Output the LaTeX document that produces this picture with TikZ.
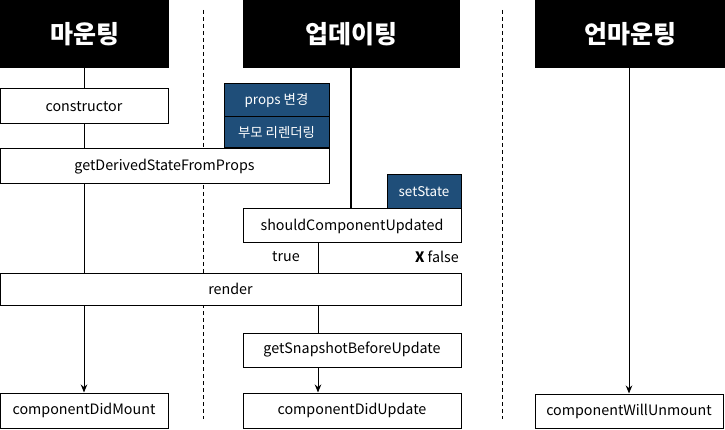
\documentclass[tikz,border=0pt]{standalone}
\usepackage{fontspec}
\setmainfont{Noto Sans CJK KR}
\usetikzlibrary{arrows.meta}
\definecolor{navy}{HTML}{1F4E79}
\tikzset{
  hdr/.style={fill=black, text=white, inner sep=0pt, font=\fontsize{25}{28}\selectfont\bfseries},
  box/.style={draw=black, line width=1pt, fill=white, inner sep=0pt, font=\fontsize{14.3}{17}\selectfont},
  bluebox/.style={draw=black, line width=1pt, fill=navy, text=white, inner sep=0pt, font=\fontsize{13.4}{16}\selectfont},
  conn/.style={draw=black, line width=1pt},
  arr/.style={conn, -{Stealth[length=8pt,width=6.5pt]}},
  sep/.style={draw=black, line width=1pt, dash pattern=on 4pt off 3pt},
  lbl/.style={inner sep=0pt, font=\fontsize{14.3}{17}\selectfont}
}
\begin{document}
\begin{tikzpicture}[x=1pt,y=-1pt]
\useasboundingbox (0,0) rectangle (725,430);
% separators
\coordinate (s1a) at (203,10); \coordinate (s1b) at (203,419);
\coordinate (s2a) at (502,10); \coordinate (s2b) at (502,419);
\draw[sep] (s1a) -- (s1b);
\draw[sep] (s2a) -- (s2b);
% headers
\node[hdr, minimum width=169pt, minimum height=68pt] (hm) at (84.5,34) {마운팅};
\node[hdr, minimum width=217pt, minimum height=68pt] (hu) at (351.5,34) {업데이팅};
\node[hdr, minimum width=190pt, minimum height=68pt] (hn) at (630,34) {언마운팅};
% x guides
\coordinate (xm) at (84,0);
\coordinate (xu) at (351,0);
\coordinate (xt) at (318,0);
\coordinate (xn) at (629,0);
\coordinate (mb) at (84,290);
% mounting column connector (behind boxes)
\draw[conn] (hm.south -| xm) -- (mb);
% boxes
\node[box, minimum width=168pt, minimum height=35pt] (ctor) at (84,106.5) {constructor};
\node[box, minimum width=329pt, minimum height=35pt] (gdsfp) at (164.5,166.5) {getDerivedStateFromProps};
\node[bluebox, minimum width=105pt, minimum height=33pt] (props) at (276.5,100.5) {props 변경};
\node[bluebox, minimum width=105pt, minimum height=31pt] (parent) at (276.5,132.5) {부모 리렌더링};
\node[bluebox, minimum width=74pt, minimum height=34pt] (setstate) at (424,192) {setState};
\node[box, minimum width=218pt, minimum height=34pt] (scu) at (352,226) {shouldComponentUpdated};
\node[box, minimum width=461pt, minimum height=32pt] (render) at (230.5,289) {render};
\node[box, minimum width=218pt, minimum height=34pt] (gsbu) at (352,350) {getSnapshotBeforeUpdate};
\node[box, minimum width=218pt, minimum height=35pt] (cdu) at (352,410.5) {componentDidUpdate};
\node[box, minimum width=168pt, minimum height=35pt] (cdm) at (84,410.5) {componentDidMount};
\node[box, minimum width=188pt, minimum height=34pt] (cwu) at (629,411) {componentWillUnmount};
% mounting arrow
\draw[arr] (render.south -| xm) -- (cdm.north -| xm);
% updating connectors
\draw[draw=black, line width=2pt] (hu.south -| xu) -- (scu.north -| xu);
\draw[conn] (scu.south -| xt) -- (render.north -| xt);
\draw[conn] (render.south -| xt) -- (gsbu.north -| xt);
\draw[arr] (gsbu.south -| xt) -- (cdu.north -| xt);
% unmount
\draw[arr] (hn.south -| xn) -- (cwu.north -| xn);
% labels
\node[lbl] (ltrue) at (286,257) {true};
\node[lbl, anchor=east] (lfalse) at (459,257) {\textbf{X} false};
\end{tikzpicture}
\end{document}
